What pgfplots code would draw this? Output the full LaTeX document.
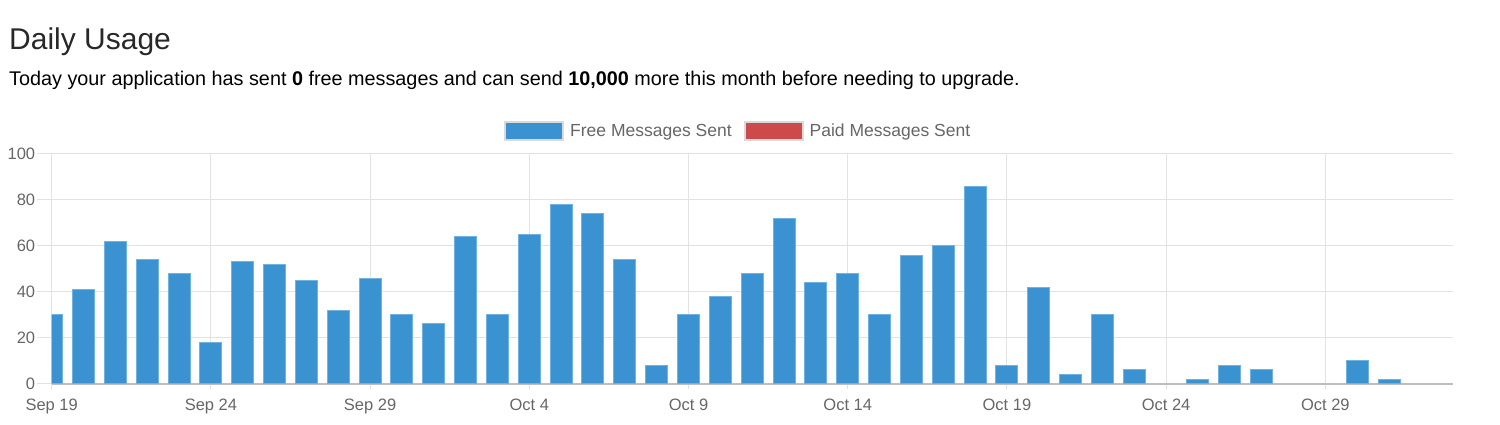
\documentclass[border=0pt]{standalone}
\usepackage{fontspec}
\setmainfont{Liberation Sans}
\usepackage{pgfplots}
\pgfplotsset{compat=1.18}
\usepackage{pgfplotstable}

\definecolor{freeblue}{RGB}{58,146,208}
\definecolor{freeedge}{RGB}{112,178,226}
\definecolor{paidred}{RGB}{204,74,74}
\definecolor{gridgray}{RGB}{226,226,226}
\definecolor{basegray}{RGB}{190,190,190}
\definecolor{ticktext}{RGB}{102,102,102}
\definecolor{titletext}{RGB}{40,40,40}
\definecolor{legendedge}{RGB}{218,218,218}

% day index (0 = Sep 19), free and paid messages sent that day
\pgfplotstableread{
day free paid
0 30 0
1 41 0
2 62 0
3 54 0
4 48 0
5 18 0
6 53 0
7 52 0
8 45 0
9 32 0
10 46 0
11 30 0
12 26 0
13 64 0
14 30 0
15 65 0
16 78 0
17 74 0
18 54 0
19 8 0
20 30 0
21 38 0
22 48 0
23 72 0
24 44 0
25 48 0
26 30 0
27 56 0
28 60 0
29 86 0
30 8 0
31 42 0
32 4 0
33 30 0
34 6 0
35 0 0
36 2 0
37 8 0
38 6 0
39 0 0
40 0 0
41 10 0
42 2 0
}\usage

\pgfplotsset{
  usageframe/.style={
    at={(51.7pt,41.3pt)}, anchor=south west,
    scale only axis, width=1401pt, height=229.7pt,
    xmin=0, xmax=44, ymin=0, ymax=100,
    xtick={0,5,...,40},
    axis line style={draw=none},
    tick align=outside,
    tick pos=left,
  },
}

\begin{document}
\begin{tikzpicture}
\useasboundingbox (0pt,0pt) rectangle (1500pt,425pt);
\node[anchor=base west, font=\fontsize{30}{36}\selectfont, text=titletext, inner sep=0pt] at (9pt,375pt) {Daily Usage};
\node[anchor=base west, font=\fontsize{19.8}{24}\selectfont, text=black, inner sep=0pt] at (9pt,339pt)
  {Today your application has sent \textbf{0} free messages and can send \textbf{10,000} more this month before needing to upgrade.};

% short tick stubs below the date axis
\begin{axis}[usageframe,
  ytick=\empty, xticklabels={},
  major tick length=5pt,
  xtick style={gridgray, line width=1pt},
]
\end{axis}

\begin{axis}[usageframe,
  ybar stacked, bar width=22pt,
  clip mode=individual,
  xticklabels={Sep 19,Sep 24,Sep 29,Oct 4,Oct 9,Oct 14,Oct 19,Oct 24,Oct 29},
  ytick={0,20,...,100},
  grid=major,
  grid style={gridgray, line width=1pt},
  major tick length=15pt,
  ytick style={gridgray, line width=1pt},
  xtick style={draw=none},
  /pgf/number format/assume math mode=true,
  ticklabel style={font=\fontsize{16.5}{19}\selectfont, text=ticktext},
  xticklabel style={yshift=3pt},
  yticklabel style={xshift=2pt},
  legend style={at={(0.49,1)}, anchor=south, yshift=11pt, draw=none, fill=none,
    legend columns=2, font=\fontsize{17.5}{20}\selectfont, text=ticktext,
    /tikz/every odd column/.append style={column sep=4pt},
    /tikz/every even column/.append style={column sep=10pt}},
]
\addplot[fill=freeblue, draw=freeedge, line width=1pt,
  legend image code/.code={\draw[fill=freeblue, draw=legendedge, line width=2pt] (0pt,-9pt) rectangle (58pt,9pt);}]
  table[x=day, y=free] {\usage};
\addlegendentry{Free Messages Sent}
\addplot[fill=paidred, draw=none,
  legend image code/.code={\draw[fill=paidred, draw=legendedge, line width=2pt] (0pt,-9pt) rectangle (58pt,9pt);}]
  table[x=day, y=paid] {\usage};
\addlegendentry{Paid Messages Sent}
\draw[basegray, line width=2pt] (rel axis cs:0,0) -- (rel axis cs:1,0);
\end{axis}
\end{tikzpicture}
\end{document}
